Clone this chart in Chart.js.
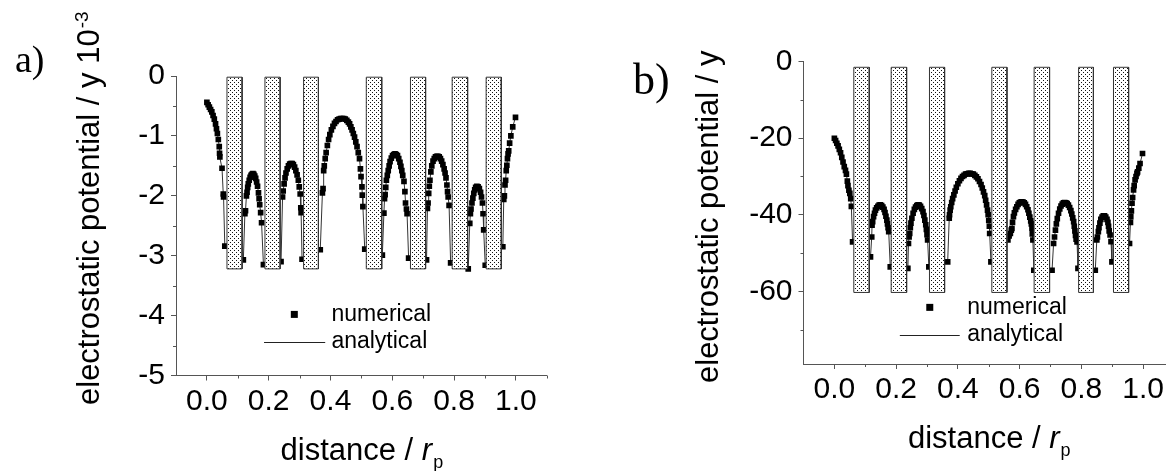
<!DOCTYPE html>
<html lang="en">
<head>
<meta charset="UTF-8">
<title>Electrostatic potential along the pore</title>
<script src="https://cdn.jsdelivr.net/npm/chart.js@4.4.1/dist/chart.umd.min.js"></script>
<style>
  html, body { margin: 0; padding: 0; background: #fff; overflow: hidden; }
  #wrap { position: relative; width: 1166px; height: 471px; overflow: hidden; }
  .panel { position: absolute; top: 0; height: 471px; }
  #panelA { left: 0; width: 583px; }
  #panelB { left: 583px; width: 600px; }
</style>
</head>
<body>
<div id="wrap">
  <div class="panel" id="panelA"><canvas id="chartA"></canvas></div>
  <div class="panel" id="panelB"><canvas id="chartB"></canvas></div>
</div>

<script>
// ---- values ----
const xTicks = [0.0, 0.2, 0.4, 0.6, 0.8, 1.0];
const xMinorTicks = [0.1, 0.3, 0.5, 0.7, 0.9, 1.1];

const yTicksA = [-5, -4, -3, -2, -1, 0];
const yMinorTicksA = [-4.5, -3.5, -2.5, -1.5, -0.5];
const yTicksB = [-60, -40, -20, 0];
const yMinorTicksB = [-70, -50, -30, -10];

// dotted slabs: x from / x to, plus their top and bottom
const slabFromA = [0.065, 0.188, 0.313, 0.516, 0.659, 0.794, 0.904];
const slabToA   = [0.114, 0.237, 0.361, 0.566, 0.708, 0.844, 0.953];
const slabYA = [-0.02, -3.22];
const slabFromB = [0.063, 0.184, 0.308, 0.510, 0.647, 0.791, 0.904];
const slabToB   = [0.113, 0.234, 0.357, 0.559, 0.697, 0.839, 0.953];
const slabYB = [-1.46, -60.3];

// panel a: distance / r_p and potential (x 10^-3)
const distA = [
  0.000,0.004,0.008,0.012,0.016,0.020,0.024,0.028,0.031,0.034,0.037,0.040,0.041,0.042,0.049,0.053,0.054,0.058,
  0.118,0.123,0.125,0.128,0.130,0.132,0.134,0.137,0.140,0.143,0.146,0.149,0.152,0.155,0.158,0.161,0.164,0.167,0.169,0.171,0.174,0.177,0.183,
  0.240,0.245,0.247,0.250,0.253,0.256,0.260,0.264,0.268,0.272,0.276,0.280,0.284,0.288,0.292,0.296,0.299,0.302,0.304,0.305,0.308,
  0.367,0.374,0.376,0.378,0.380,0.383,0.386,0.390,0.394,0.398,0.403,0.408,0.413,0.418,0.423,0.428,0.433,0.438,0.443,0.448,0.453,0.458,0.462,0.466,0.470,0.474,0.478,0.482,0.486,0.490,0.494,0.497,0.499,0.502,0.503,0.505,0.511,
  0.568,0.573,0.575,0.577,0.579,0.581,0.584,0.587,0.590,0.593,0.597,0.601,0.605,0.609,0.613,0.617,0.621,0.625,0.628,0.631,0.634,0.638,0.641,0.643,0.646,0.648,0.653,
  0.711,0.714,0.716,0.718,0.720,0.722,0.725,0.728,0.732,0.736,0.740,0.744,0.748,0.752,0.756,0.760,0.764,0.768,0.771,0.774,0.777,0.779,0.781,0.784,0.789,
  0.846,0.851,0.853,0.855,0.858,0.861,0.864,0.867,0.870,0.874,0.878,0.882,0.886,0.889,0.892,0.894,0.896,0.901,
  0.958,0.961,0.963,0.965,0.967,0.969,0.971,0.973,0.975,0.977,0.980,0.984,0.990,0.999
];
const potA = [
  -0.44,-0.48,-0.52,-0.56,-0.60,-0.66,-0.72,-0.80,-0.88,-0.96,-1.06,-1.18,-1.29,-1.35,-1.54,-1.97,-2.02,-2.84,
  -3.07,-2.30,-2.25,-2.00,-1.94,-1.86,-1.80,-1.74,-1.69,-1.66,-1.64,-1.63,-1.64,-1.67,-1.71,-1.77,-1.84,-1.95,-2.05,-2.15,-2.28,-2.45,-3.15,
  -3.10,-2.02,-1.92,-1.80,-1.70,-1.62,-1.55,-1.50,-1.47,-1.46,-1.46,-1.48,-1.52,-1.58,-1.65,-1.74,-1.85,-1.97,-2.20,-2.28,-3.06,
  -2.90,-1.95,-1.88,-1.58,-1.50,-1.38,-1.28,-1.16,-1.06,-0.98,-0.90,-0.84,-0.79,-0.76,-0.73,-0.72,-0.71,-0.71,-0.71,-0.72,-0.74,-0.77,-0.80,-0.85,-0.90,-0.96,-1.02,-1.10,-1.18,-1.28,-1.38,-1.55,-1.68,-1.85,-1.99,-2.18,-2.89,
  -2.99,-2.29,-2.05,-1.98,-1.86,-1.74,-1.66,-1.58,-1.50,-1.43,-1.37,-1.33,-1.31,-1.30,-1.31,-1.33,-1.38,-1.44,-1.51,-1.58,-1.66,-1.76,-1.93,-2.12,-2.22,-2.30,-3.04,
  -3.07,-2.21,-2.12,-1.96,-1.84,-1.74,-1.60,-1.50,-1.42,-1.38,-1.35,-1.34,-1.34,-1.35,-1.38,-1.42,-1.48,-1.55,-1.62,-1.70,-1.82,-1.93,-2.02,-2.16,-3.12,
  -3.22,-2.46,-2.30,-2.22,-2.12,-2.04,-1.96,-1.90,-1.86,-1.84,-1.85,-1.88,-1.94,-2.02,-2.12,-2.30,-2.57,-3.16,
  -2.85,-2.06,-2.00,-1.82,-1.74,-1.58,-1.49,-1.38,-1.30,-1.25,-1.12,-1.00,-0.85,-0.69
];

// panel b: distance / r_p and potential
const distB = [
  0.000,0.004,0.008,0.012,0.016,0.020,0.024,0.028,0.032,0.036,0.039,0.042,0.044,0.047,0.050,0.053,0.055,0.059,
  0.117,0.121,0.122,0.124,0.127,0.130,0.133,0.137,0.141,0.145,0.149,0.153,0.157,0.161,0.164,0.167,0.170,0.172,0.174,0.176,0.181,
  0.238,0.240,0.242,0.244,0.246,0.248,0.251,0.255,0.259,0.263,0.267,0.271,0.275,0.279,0.283,0.287,0.290,0.293,0.296,0.298,0.300,0.302,0.306,
  0.367,0.372,0.373,0.375,0.377,0.380,0.383,0.387,0.391,0.395,0.400,0.405,0.410,0.415,0.420,0.425,0.430,0.435,0.440,0.445,0.450,0.455,0.460,0.465,0.470,0.475,0.479,0.483,0.487,0.490,0.493,0.496,0.498,0.500,0.502,0.503,0.507,
  0.562,0.566,0.570,0.573,0.575,0.577,0.580,0.583,0.587,0.591,0.595,0.599,0.603,0.607,0.611,0.615,0.619,0.623,0.627,0.630,0.633,0.636,0.638,0.640,0.641,0.643,0.646,
  0.705,0.710,0.713,0.716,0.719,0.722,0.726,0.730,0.734,0.738,0.742,0.746,0.750,0.754,0.758,0.762,0.766,0.769,0.772,0.775,0.777,0.779,0.781,0.783,0.786,0.789,
  0.845,0.850,0.852,0.855,0.857,0.860,0.863,0.867,0.871,0.875,0.879,0.883,0.886,0.888,0.890,0.893,0.896,0.899,
  0.956,0.959,0.960,0.962,0.964,0.966,0.969,0.971,0.974,0.977,0.980,0.982,0.986,0.990,0.998
];
const potB = [
  -20.0,-20.6,-21.3,-22.0,-22.9,-23.8,-25.0,-26.2,-27.4,-28.4,-29.4,-31.2,-32.4,-33.6,-34.4,-35.8,-37.8,-47.1,
  -51.0,-45.8,-42.7,-41.8,-40.5,-39.6,-38.8,-38.2,-37.8,-37.5,-37.4,-37.6,-38.0,-38.6,-39.4,-40.4,-41.4,-42.4,-43.4,-44.4,-53.6,
  -54.0,-47.5,-45.8,-44.9,-43.4,-42.2,-40.9,-39.6,-38.6,-38.0,-37.6,-37.4,-37.5,-37.8,-38.4,-39.2,-40.2,-41.4,-42.6,-43.8,-45.2,-46.6,-53.6,
  -52.3,-40.9,-40.0,-38.8,-37.9,-36.8,-35.8,-34.8,-33.8,-32.8,-31.9,-31.1,-30.5,-30.0,-29.7,-29.4,-29.3,-29.2,-29.2,-29.3,-29.4,-29.7,-30.1,-30.6,-31.3,-32.1,-33.0,-34.0,-35.0,-36.2,-37.4,-38.8,-40.0,-41.5,-43.0,-44.9,-52.3,
  -46.6,-45.5,-44.9,-44.0,-43.6,-42.0,-40.5,-39.5,-38.6,-37.9,-37.3,-36.9,-36.7,-36.6,-36.7,-36.9,-37.3,-37.9,-38.7,-39.6,-40.6,-41.6,-42.4,-43.5,-45.0,-46.6,-54.5,
  -54.5,-47.5,-45.8,-44.0,-42.4,-41.0,-39.6,-38.5,-37.7,-37.2,-36.9,-36.8,-36.9,-37.1,-37.5,-38.1,-38.9,-39.8,-40.8,-41.8,-43.0,-44.2,-45.4,-46.4,-47.1,-54.0,
  -54.5,-46.6,-45.8,-44.4,-43.4,-42.2,-41.2,-40.6,-40.3,-40.3,-40.6,-41.2,-42.0,-43.0,-44.2,-45.3,-47.0,-52.3,
  -47.5,-42.0,-40.5,-39.0,-37.0,-35.5,-33.5,-32.4,-30.9,-30.0,-29.2,-28.8,-27.8,-26.6,-24.0
];

// ---- styling ----
const AXIS = '#555';
const SANS = "'Liberation Sans', Arial, sans-serif";
const SERIF = "'Liberation Serif', 'Times New Roman', serif";

function dotPattern() {
  const c = document.createElement('canvas');
  c.width = 4; c.height = 4;
  const g = c.getContext('2d');
  g.fillStyle = '#fff';
  g.fillRect(0, 0, 4, 4);
  g.fillStyle = '#111';
  g.fillRect(0, 0, 1, 1);
  g.fillRect(2, 2, 1, 1);
  return g.createPattern(c, 'repeat');
}

function zip(xs, ys) {
  return xs.map((x, i) => ({x: x, y: ys[i]}));
}

function slabDatasets(from, to, yRange, pattern) {
  const top = yRange[0], bottom = yRange[1];
  return from.map((x0, i) => ({
    type: 'line',
    data: [{x: x0, y: top}, {x: to[i], y: top}, {x: to[i], y: bottom}, {x: x0, y: bottom}, {x: x0, y: top}],
    fill: 'shape',
    backgroundColor: pattern,
    borderColor: '#333',
    borderWidth: 1,
    pointRadius: 0,
    tension: 0,
    order: 0
  }));
}

// axis titles, panel letter, legend and minor ticks
const decor = {
  id: 'decor',
  afterDraw(chart, args, o) {
    const ctx = chart.ctx;
    const xs = chart.scales.x, ys = chart.scales.y, area = chart.chartArea;
    ctx.save();

    // minor ticks
    ctx.strokeStyle = AXIS;
    ctx.lineWidth = 1;
    ctx.beginPath();
    o.minorX.forEach(v => {
      const px = Math.round(xs.getPixelForValue(v)) + 0.5;
      ctx.moveTo(px, area.bottom);
      ctx.lineTo(px, area.bottom + 3);
    });
    o.minorY.forEach(v => {
      const py = Math.round(ys.getPixelForValue(v)) + 0.5;
      ctx.moveTo(area.left, py);
      ctx.lineTo(area.left - 3, py);
    });
    ctx.stroke();

    // legend
    const lg = o.legend;
    ctx.fillStyle = '#000';
    ctx.font = '23px ' + SANS;
    ctx.textAlign = 'left';
    ctx.textBaseline = 'middle';
    const r1 = ys.getPixelForValue(lg.row1), r2 = ys.getPixelForValue(lg.row2);
    const mx = xs.getPixelForValue(lg.markX);
    ctx.fillRect(mx - 3.5, r1 - 3.5, 7, 7);
    ctx.fillText('numerical', xs.getPixelForValue(lg.textX), r1);
    ctx.strokeStyle = '#222';
    ctx.beginPath();
    ctx.moveTo(xs.getPixelForValue(lg.lineFrom), Math.round(r2) + 0.5);
    ctx.lineTo(xs.getPixelForValue(lg.lineTo), Math.round(r2) + 0.5);
    ctx.stroke();
    ctx.fillText('analytical', xs.getPixelForValue(lg.textX), r2);

    // x title: distance / r_p
    ctx.textBaseline = 'alphabetic';
    const main = 'distance / ';
    ctx.font = '31px ' + SANS;
    const w1 = ctx.measureText(main).width;
    ctx.font = 'italic 31px ' + SANS;
    const w2 = ctx.measureText('r').width;
    ctx.font = '18px ' + SANS;
    const w3 = ctx.measureText('p').width;
    const tx = (area.left + area.right) / 2 - (w1 + w2 + w3) / 2;
    const ty = area.bottom + 84;
    ctx.font = '31px ' + SANS;
    ctx.fillText(main, tx, ty);
    ctx.font = 'italic 31px ' + SANS;
    ctx.fillText('r', tx + w1, ty);
    ctx.font = '18px ' + SANS;
    ctx.fillText('p', tx + w1 + w2 + 1, ty + 8);

    // y title, rotated
    const yt = o.yTitle;
    ctx.save();
    ctx.translate(yt.x, yt.y);
    ctx.rotate(-Math.PI / 2);
    ctx.font = '31px ' + SANS;
    ctx.fillText(yt.text, 0, 0);
    if (yt.sup) {
      const w = ctx.measureText(yt.text).width;
      ctx.font = '19px ' + SANS;
      ctx.fillText(yt.sup, w + 1, -11);
    }
    ctx.restore();

    // panel letter
    ctx.font = o.letter.size + 'px ' + SERIF;
    ctx.fillText(o.letter.text, o.letter.x, o.letter.y);
    ctx.restore();
  }
};

function makeChart(id, cfg) {
  const pattern = dotPattern();
  return new Chart(document.getElementById(id), {
    type: 'scatter',
    data: {
      datasets: [
        {
          label: 'numerical',
          type: 'scatter',
          data: zip(cfg.dist, cfg.pot),
          pointStyle: 'rect',
          pointRadius: 4,
          pointBorderWidth: 0,
          pointBackgroundColor: '#000',
          order: 1
        },
        {
          label: 'analytical',
          type: 'line',
          data: zip(cfg.dist, cfg.pot),
          borderColor: '#333',
          borderWidth: 1,
          pointRadius: 0,
          tension: 0,
          fill: false,
          order: 2
        }
      ].concat(slabDatasets(cfg.slabFrom, cfg.slabTo, cfg.slabY, pattern))
    },
    options: {
      responsive: true,
      maintainAspectRatio: false,
      animation: false,
      events: [],
      layout: { padding: cfg.padding },
      scales: {
        x: {
          type: 'linear',
          min: -0.1,
          max: 1.1,
          afterBuildTicks: s => { s.ticks = xTicks.map(v => ({value: v})); },
          afterFit: s => { s.height = cfg.xHeight; },
          grid: { drawOnChartArea: false, tickLength: 5, tickColor: AXIS, lineWidth: 1 },
          border: { color: AXIS, width: 1 },
          ticks: {
            color: '#000',
            font: { family: SANS, size: 30 },
            padding: 3,
            maxRotation: 0,
            autoSkip: false,
            callback: v => Number(v).toFixed(1)
          }
        },
        y: {
          type: 'linear',
          min: cfg.yMin,
          max: 0,
          afterBuildTicks: s => { s.ticks = cfg.yTicks.map(v => ({value: v})); },
          afterFit: s => { s.width = cfg.yWidth; },
          grid: { drawOnChartArea: false, tickLength: 5, tickColor: AXIS, lineWidth: 1 },
          border: { color: AXIS, width: 1 },
          ticks: {
            color: '#000',
            font: { family: SANS, size: 30 },
            padding: 6,
            autoSkip: false,
            callback: v => String(v)
          }
        }
      },
      plugins: {
        legend: { display: false },
        tooltip: { enabled: false },
        decor: cfg.decor
      }
    },
    plugins: [decor]
  });
}

makeChart('chartA', {
  dist: distA, pot: potA,
  slabFrom: slabFromA, slabTo: slabToA, slabY: slabYA,
  yMin: -5, yTicks: yTicksA,
  padding: { top: 76, right: 36.3, left: 0, bottom: 0 },
  xHeight: 95.5, yWidth: 176,
  decor: {
    minorX: xMinorTicks, minorY: yMinorTicksA,
    legend: { markX: 0.283, textX: 0.403, lineFrom: 0.185, lineTo: 0.383, row1: -3.98, row2: -4.44 },
    yTitle: { text: 'electrostatic potential / y 10', sup: '-3', x: 99, y: 405 },
    letter: { text: 'a)', size: 38, x: 15, y: 72 }
  }
});

makeChart('chartB', {
  dist: distB, pot: potB,
  slabFrom: slabFromB, slabTo: slabToB, slabY: slabYB,
  yMin: -79, yTicks: yTicksB,
  padding: { top: 61.7, right: 9, left: 0, bottom: 0 },
  xHeight: 107, yWidth: 220.5,
  decor: {
    minorX: xMinorTicks, minorY: yMinorTicksB,
    legend: { markX: 0.309, textX: 0.430, lineFrom: 0.212, lineTo: 0.406, row1: -64.2, row2: -71.3 },
    yTitle: { text: 'electrostatic potential / y', sup: '', x: 135, y: 383 },
    letter: { text: 'b)', size: 44, x: 50, y: 94 }
  }
});
</script>
</body>
</html>
